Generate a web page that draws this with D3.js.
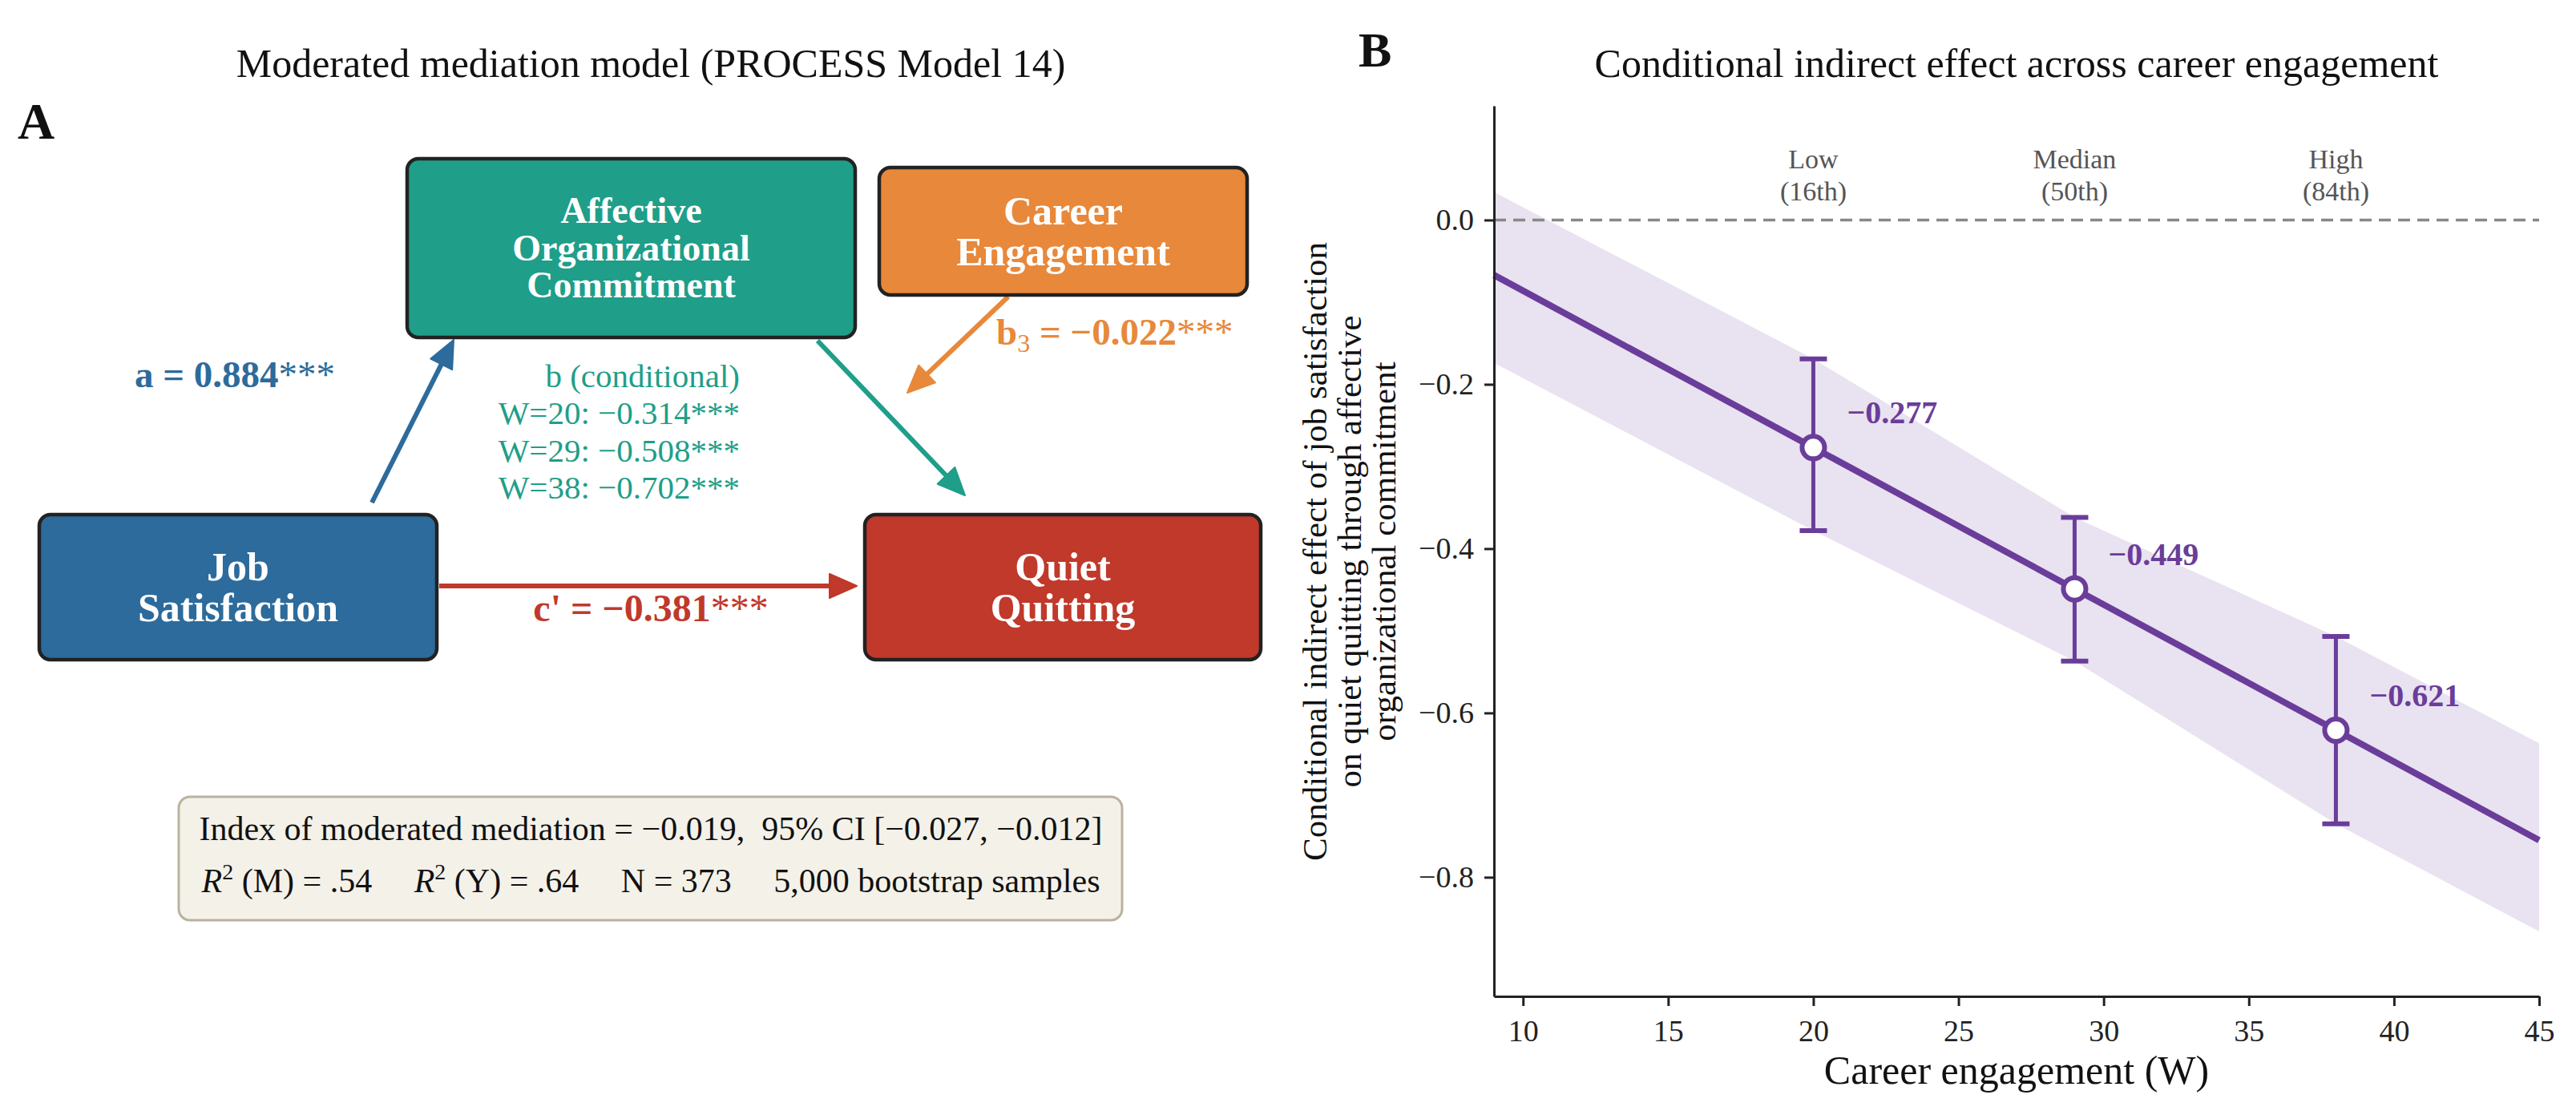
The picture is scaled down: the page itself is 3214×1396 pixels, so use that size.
<!DOCTYPE html>
<html>
<head>
<meta charset="utf-8">
<script src="https://cdn.jsdelivr.net/npm/d3@7"></script>
<style>
  body { margin: 0; background: #fff; }
  text { font-family: "Liberation Serif", "Times New Roman", serif; }
</style>
</head>
<body>
<div id="chart"></div>
<script>
// ---- panel B values ----
var wLevels = [20, 29, 38];
var levelNames = ["Low", "Median", "High"];
var levelPct = ["(16th)", "(50th)", "(84th)"];
var condEffect = [-0.277, -0.449, -0.621];
var ciLower = [-0.378, -0.537, -0.735];
var ciUpper = [-0.169, -0.362, -0.507];
var lineW = [9, 20, 29, 38, 45];
var lineEffect = [-0.067, -0.277, -0.449, -0.621, -0.755];
var bandW = [9, 20, 29, 38, 45];
var bandLower = [-0.174, -0.378, -0.537, -0.735, -0.866];
var bandUpper = [0.034, -0.169, -0.362, -0.507, -0.637];
var xTicks = [10, 15, 20, 25, 30, 35, 40, 45];
var yTicks = [0, -0.2, -0.4, -0.6, -0.8];

// ---- panel A values ----
var pathA = 0.884, pathB3 = -0.022, pathC = -0.381;
var condW = [20, 29, 38];
var condB = [-0.314, -0.508, -0.702];
var indexMM = -0.019, indexCI = [-0.027, -0.012];
var r2M = ".54", r2Y = ".64", sampleN = 373, nBoot = "5,000";

var purple = "#6a3d9a";
var fmt = function (v) { return (v < 0 ? "\u2212" : "") + Math.abs(v).toFixed(3); };
var fmtTick = function (v) { return (v < 0 ? "\u2212" : "") + Math.abs(v).toFixed(1); };

var W = 3214, H = 1396;
var svg = d3.select("#chart").append("svg")
    .attr("width", W).attr("height", H)
    .style("background", "#fff");

// ================= Panel A : diagram =================
svg.append("text").attr("x", 812).attr("y", 96)
    .attr("text-anchor", "middle").style("font-size", "50px").style("fill", "#111")
    .text("Moderated mediation model (PROCESS Model 14)");
svg.append("text").attr("x", 22).attr("y", 173)
    .style("font-size", "64px").style("font-weight", "bold").style("fill", "#111")
    .text("A");

var boxes = [
  {lines: ["Job", "Satisfaction"], x: 49, y: 642, w: 496, h: 181, fill: "#2c6b9b", fs: 50, lh: 51},
  {lines: ["Affective", "Organizational", "Commitment"], x: 508, y: 198, w: 559, h: 223, fill: "#1f9e89", fs: 46, lh: 46.5},
  {lines: ["Career", "Engagement"], x: 1097, y: 209, w: 459, h: 159, fill: "#e8883a", fs: 50, lh: 51},
  {lines: ["Quiet", "Quitting"], x: 1079, y: 642, w: 494, h: 181, fill: "#c0392b", fs: 50, lh: 51}
];

var arrows = [
  {x1: 464, y1: 627, x2: 566, y2: 424, c: "#2c6b9b"},
  {x1: 1020, y1: 425, x2: 1204, y2: 618, c: "#1f9e89"},
  {x1: 1258, y1: 370, x2: 1132, y2: 490, c: "#e8883a"},
  {x1: 548, y1: 731, x2: 1069, y2: 731, c: "#c0392b"}
];

// arrows: shaft + filled head
arrows.forEach(function (a) {
  var dx = a.x2 - a.x1, dy = a.y2 - a.y1, len = Math.sqrt(dx * dx + dy * dy);
  var ux = dx / len, uy = dy / len, hl = 34, hw = 15;
  var bx = a.x2 - ux * hl, by = a.y2 - uy * hl;
  svg.append("line")
      .attr("x1", a.x1).attr("y1", a.y1).attr("x2", bx + ux * 4).attr("y2", by + uy * 4)
      .style("stroke", a.c).style("stroke-width", 6);
  svg.append("path")
      .attr("d", "M" + a.x2 + "," + a.y2 +
                 "L" + (bx - uy * hw) + "," + (by + ux * hw) +
                 "L" + (bx + uy * hw) + "," + (by - ux * hw) + "Z")
      .style("fill", a.c).style("stroke", a.c).style("stroke-width", 2)
      .style("stroke-linejoin", "round");
});

// boxes
boxes.forEach(function (b) {
  svg.append("rect")
      .attr("x", b.x).attr("y", b.y).attr("width", b.w).attr("height", b.h)
      .attr("rx", 14).attr("ry", 14)
      .style("fill", b.fill).style("stroke", "#222").style("stroke-width", 4.5);
  var cy = b.y + b.h / 2;
  var first = cy - (b.lines.length - 1) * b.lh / 2 + 0.33 * b.fs;
  var t = svg.append("text")
      .attr("text-anchor", "middle")
      .style("font-size", b.fs + "px").style("font-weight", "bold").style("fill", "#fff");
  b.lines.forEach(function (l, i) {
    t.append("tspan").attr("x", b.x + b.w / 2).attr("y", first + i * b.lh).text(l);
  });
});

// path labels
var aLab = svg.append("text").attr("x", 293).attr("y", 483).attr("text-anchor", "middle")
    .style("font-size", "47px").style("font-weight", "bold").style("fill", "#2c6b9b");
aLab.append("tspan").text("a = " + pathA.toFixed(3));
aLab.append("tspan").style("font-weight", "normal").text("***");

var b3Lab = svg.append("text").attr("x", 1243).attr("y", 430)
    .style("font-size", "47px").style("font-weight", "bold").style("fill", "#e8883a");
b3Lab.append("tspan").text("b");
b3Lab.append("tspan").attr("dy", 9).style("font-size", "32px").style("font-weight", "normal").text("3");
b3Lab.append("tspan").attr("dy", -9).text(" = " + fmt(pathB3));
b3Lab.append("tspan").style("font-weight", "normal").text("***");

var cLab = svg.append("text").attr("x", 812).attr("y", 775).attr("text-anchor", "middle")
    .style("font-size", "48px").style("font-weight", "bold").style("fill", "#c0392b");
cLab.append("tspan").text("c' = " + fmt(pathC));
cLab.append("tspan").style("font-weight", "normal").text("***");

var bLab = svg.append("text").attr("text-anchor", "end")
    .style("font-size", "41px").style("fill", "#1f9e89");
bLab.append("tspan").attr("x", 923).attr("y", 483).text("b (conditional)");
condW.forEach(function (w, i) {
  bLab.append("tspan").attr("x", 923).attr("y", 529 + i * 46.5)
      .text("W=" + w + ": " + fmt(condB[i]) + "***");
});

// stats box
svg.append("rect")
    .attr("x", 223).attr("y", 994).attr("width", 1177).attr("height", 154)
    .attr("rx", 14).attr("ry", 14)
    .style("fill", "#f4f1e9").style("stroke", "#bab39d").style("stroke-width", 3);
svg.append("text").attr("x", 812).attr("y", 1048).attr("text-anchor", "middle")
    .style("font-size", "42px").style("fill", "#111").style("white-space", "pre")
    .text("Index of moderated mediation = " + fmt(indexMM) + ",  95% CI [" +
          fmt(indexCI[0]) + ", " + fmt(indexCI[1]) + "]");
var st = svg.append("text").attr("x", 812).attr("y", 1113).attr("text-anchor", "middle")
    .style("font-size", "42px").style("fill", "#111").style("white-space", "pre");
st.append("tspan").style("font-style", "italic").text("R");
st.append("tspan").attr("dy", -16).style("font-size", "28px").text("2");
st.append("tspan").attr("dy", 16).text(" (M) = " + r2M + "     ");
st.append("tspan").style("font-style", "italic").text("R");
st.append("tspan").attr("dy", -16).style("font-size", "28px").text("2");
st.append("tspan").attr("dy", 16).text(" (Y) = " + r2Y + "     N = " + sampleN + "     " + nBoot + " bootstrap samples");

// ================= Panel B : conditional indirect effect =================
var x = d3.scaleLinear().domain([9, 45]).range([1864, 3168]);
var y = d3.scaleLinear().domain([-0.945, 0.139]).range([1243, 132]);

svg.append("text").attr("x", 1695).attr("y", 83)
    .style("font-size", "62px").style("font-weight", "bold").style("fill", "#111")
    .text("B");
svg.append("text").attr("x", 2516).attr("y", 96).attr("text-anchor", "middle")
    .style("font-size", "50px").style("fill", "#111")
    .text("Conditional indirect effect across career engagement");

// CI band
var band = bandW.map(function (w, i) { return {w: w, lo: bandLower[i], hi: bandUpper[i]}; });
svg.append("path").datum(band)
    .attr("d", d3.area()
        .x(function (d) { return x(d.w); })
        .y0(function (d) { return y(d.lo); })
        .y1(function (d) { return y(d.hi); }))
    .style("fill", purple).style("opacity", 0.15);

// zero line
svg.append("line")
    .attr("x1", x(9)).attr("x2", x(45)).attr("y1", y(0)).attr("y2", y(0))
    .style("stroke", "#888").style("stroke-width", 3.5).style("stroke-dasharray", "15,9");

// effect line
var lineData = lineW.map(function (w, i) { return {w: w, v: lineEffect[i]}; });
svg.append("path").datum(lineData)
    .attr("d", d3.line().x(function (d) { return x(d.w); }).y(function (d) { return y(d.v); }))
    .style("fill", "none").style("stroke", purple).style("stroke-width", 8);

// error bars + points
var pts = wLevels.map(function (w, i) {
  return {w: w, v: condEffect[i], lo: ciLower[i], hi: ciUpper[i], name: levelNames[i], pct: levelPct[i]};
});
var g = svg.append("g");
g.selectAll(".eb").data(pts).enter().append("line")
    .attr("x1", function (d) { return x(d.w); }).attr("x2", function (d) { return x(d.w); })
    .attr("y1", function (d) { return y(d.lo); }).attr("y2", function (d) { return y(d.hi); })
    .style("stroke", purple).style("stroke-width", 5);
["lo", "hi"].forEach(function (k) {
  g.selectAll(".cap" + k).data(pts).enter().append("line")
      .attr("x1", function (d) { return x(d.w) - 17; }).attr("x2", function (d) { return x(d.w) + 17; })
      .attr("y1", function (d) { return y(d[k]); }).attr("y2", function (d) { return y(d[k]); })
      .style("stroke", purple).style("stroke-width", 6);
});
g.selectAll("circle").data(pts).enter().append("circle")
    .attr("cx", function (d) { return x(d.w); })
    .attr("cy", function (d) { return y(d.v); })
    .attr("r", 14)
    .style("fill", "#fff").style("stroke", purple).style("stroke-width", 6);
g.selectAll(".val").data(pts).enter().append("text")
    .attr("x", function (d) { return x(d.w) + 42; })
    .attr("y", function (d) { return y(d.v) - 30; })
    .style("font-size", "40px").style("font-weight", "bold").style("fill", purple)
    .text(function (d) { return fmt(d.v); });

// level labels
var lev = g.selectAll(".lev").data(pts).enter().append("text")
    .attr("text-anchor", "middle")
    .style("font-size", "34px").style("fill", "#555");
lev.append("tspan").attr("x", function (d) { return x(d.w); }).attr("y", 210)
    .text(function (d) { return d.name; });
lev.append("tspan").attr("x", function (d) { return x(d.w); }).attr("y", 250)
    .text(function (d) { return d.pct; });

// axes
var xAxis = svg.append("g").attr("transform", "translate(0," + y.range()[0] + ")")
    .call(d3.axisBottom(x).tickValues(xTicks).tickSize(12).tickSizeOuter(0).tickPadding(17)
        .tickFormat(d3.format("d")));
var yAxis = svg.append("g").attr("transform", "translate(" + x.range()[0] + ",0)")
    .call(d3.axisLeft(y).tickValues(yTicks).tickSize(12).tickSizeOuter(0).tickPadding(13)
        .tickFormat(fmtTick));
[xAxis, yAxis].forEach(function (ax) {
  ax.select(".domain").style("stroke", "#222").style("stroke-width", 3);
  ax.selectAll(".tick line").style("stroke", "#222").style("stroke-width", 3);
  ax.selectAll(".tick text").style("font-size", "38px").style("fill", "#222")
      .style("font-family", "'Liberation Serif', serif");
});

svg.append("text").attr("x", 2516).attr("y", 1352).attr("text-anchor", "middle")
    .style("font-size", "50px").style("fill", "#111")
    .text("Career engagement (W)");

var yl = svg.append("text")
    .attr("transform", "translate(1655,688) rotate(-90)")
    .attr("text-anchor", "middle")
    .style("font-size", "43px").style("fill", "#111");
["Conditional indirect effect of job satisfaction",
 "on quiet quitting through affective",
 "organizational commitment"].forEach(function (l, i) {
  yl.append("tspan").attr("x", 0).attr("y", i * 43).text(l);
});
</script>
</body>
</html>
